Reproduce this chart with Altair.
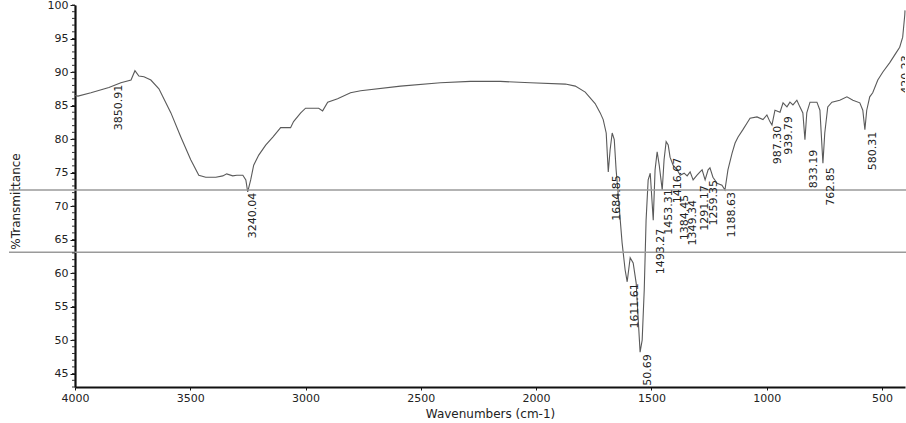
import altair as alt
import pandas as pd

# Spectrum (wavenumber cm-1, %T)
wavenumber = [4000, 3987, 3931, 3853, 3801, 3757, 3740, 3723, 3701, 3671, 3636, 3584, 3541, 3498,
              3463, 3433, 3389, 3359, 3342, 3316, 3298, 3272, 3259, 3251, 3238, 3225, 3203, 3173,
              3142, 3108, 3065, 3052, 3021, 3000, 2943, 2926, 2904, 2861, 2805, 2761, 2588, 2415,
              2285, 2155, 2025, 1873, 1830, 1787, 1744, 1722, 1709, 1696, 1687, 1679, 1670, 1661,
              1653, 1648, 1627, 1614, 1605, 1592, 1579, 1566, 1557, 1549, 1540, 1531, 1523, 1514,
              1505, 1492, 1484, 1475, 1466, 1453, 1445, 1436, 1427, 1419, 1406, 1388, 1375, 1358,
              1345, 1332, 1319, 1302, 1289, 1280, 1267, 1254, 1246, 1233, 1215, 1194, 1181, 1168,
              1150, 1137, 1124, 1103, 1085, 1072, 1042, 1016, 999, 986, 977, 964, 942, 929, 912,
              899, 886, 869, 856, 843, 834, 826, 812, 782, 769, 756, 748, 735, 717, 683, 652, 626,
              596, 583, 574, 566, 553, 540, 518, 496, 466, 436, 423, 410, 401, 400]
transmittance = [86.5, 86.4, 86.9, 87.7, 88.4, 88.8, 90.2, 89.4, 89.3, 88.8, 87.5, 83.9, 80.3, 76.9,
                 74.6, 74.3, 74.3, 74.5, 74.8, 74.5, 74.6, 74.6, 73.9, 72.1, 73.9, 76.1, 77.6, 79.1,
                 80.3, 81.7, 81.7, 82.6, 83.9, 84.6, 84.6, 84.2, 85.5, 86.0, 86.9, 87.2, 87.9, 88.4,
                 88.6, 88.6, 88.4, 88.2, 87.9, 87.0, 85.3, 83.9, 82.9, 80.9, 75.1, 78.4, 80.9, 79.9,
                 75.4, 73.4, 64.5, 60.5, 58.7, 62.3, 61.5, 58.5, 53.0, 48.2, 50.0, 57.5, 67.9, 73.9,
                 74.9, 67.9, 75.4, 78.1, 76.1, 72.4, 76.9, 79.6, 79.1, 77.3, 76.1, 75.4, 74.6, 74.9,
                 74.5, 75.1, 73.9, 74.6, 75.1, 75.4, 73.9, 75.4, 75.7, 74.3, 73.4, 73.1, 72.4, 75.4,
                 77.9, 79.4, 80.3, 81.4, 82.4, 83.1, 83.3, 82.9, 83.6, 82.6, 82.1, 84.3, 84.0, 85.4, 84.8,
                 85.5, 85.1, 85.8, 84.8, 83.9, 79.9, 83.9, 85.5, 85.5, 84.3, 76.4, 80.9, 84.8, 85.5, 85.8, 86.3, 85.8,
                 85.4, 84.3, 81.4, 84.3, 86.3, 86.9, 88.8, 90.0, 91.4, 93.0, 93.7, 95.2, 98.5, 99.2]

# Peak annotations: text, anchor wavenumber, top of label (%T)
peak_text = ["3850.91", "3240.04", "1684.85", "1611.61", "1550.69", "1493.27", "1453.31",
             "1416.67", "1384.45", "1349.34", "1291.17", "1259.35", "1188.63", "987.30",
             "939.79", "833.19", "762.85", "580.31", "420.23"]
peak_wn = [3809, 3229, 1648, 1570, 1514, 1458, 1423, 1384, 1354, 1319, 1267, 1228, 1150, 951,
           903, 795, 722, 540, 396]
peak_top = [88.1, 72.0, 74.6, 58.5, 47.9, 66.6, 72.5, 77.2, 71.7, 70.9, 73.1, 73.9, 72.1, 82.0,
            83.4, 78.4, 75.8, 81.1, 92.5]

# Scan reference lines (%T)
ref_lines = [72.4, 63.1]

x_ticks = [4000, 3500, 3000, 2500, 2000, 1500, 1000, 500]
y_ticks = [45, 50, 55, 60, 65, 70, 75, 80, 85, 90, 95, 100]
minor_y = list(range(43, 101))

FONT = "DejaVu Sans"
W, H = 830, 382

xscale = alt.Scale(domain=[4000, 400], nice=False, zero=False)
yscale = alt.Scale(domain=[43, 100], nice=False, zero=False)

spectrum = pd.DataFrame({"wn": wavenumber, "T": transmittance})
peaks = pd.DataFrame({"label": peak_text, "wn": peak_wn, "top": peak_top})
refs = pd.DataFrame({"v": ref_lines})
minors = pd.DataFrame({"v": minor_y})

xaxis = alt.Axis(values=x_ticks, format="d", title="Wavenumbers (cm-1)", grid=False,
                 domainColor="#111", domainWidth=2.2, tickColor="#111", tickSize=3,
                 labelPadding=2, labelFont=FONT, labelFontSize=11, labelColor="#222",
                 labelFlush=False, titleFont=FONT, titleFontSize=12, titleFontWeight="normal",
                 titleColor="#222", titleY=26, titleBaseline="middle")
yaxis = alt.Axis(values=y_ticks, format="d", title="%Transmittance", grid=False,
                 domainColor="#111", domainWidth=2.2, tickColor="#111", tickSize=5,
                 labelPadding=2, labelFont=FONT, labelFontSize=11, labelColor="#222",
                 labelFlush=False,
                 titleFont=FONT, titleFontSize=12, titleFontWeight="normal", titleColor="#222",
                 titleX=-60, titleY=196, titleAngle=270, titleAlign="center",
                 titleBaseline="middle")

line_layer = alt.Chart(spectrum).mark_line(color="#5a5a5a", strokeWidth=1.1).encode(
    x=alt.X("wn:Q", scale=xscale, axis=xaxis),
    y=alt.Y("T:Q", scale=yscale, axis=yaxis))

ref_layer = alt.Chart(refs).mark_rule(color="#9a9a9a", strokeWidth=1.4).encode(
    y=alt.Y("v:Q", scale=yscale, axis=yaxis),
    x=alt.value(-66), x2=alt.value(W + 2))

minor_layer = alt.Chart(minors).mark_rule(color="#333", strokeWidth=1).encode(
    y=alt.Y("v:Q", scale=yscale, axis=yaxis),
    x=alt.value(-3), x2=alt.value(0))

label_layer = alt.Chart(peaks).mark_text(angle=270, align="right", baseline="middle",
                                         font=FONT, fontSize=11, color="#222", clip=True).encode(
    x=alt.X("wn:Q", scale=xscale, axis=xaxis),
    y=alt.Y("top:Q", scale=yscale, axis=yaxis),
    text="label:N")

chart = alt.layer(line_layer, ref_layer, minor_layer, label_layer).properties(
    width=W, height=H,
    padding={"left": 75, "top": 5, "right": 1, "bottom": 36},
    autosize="none",
    background="white",
).configure_view(stroke=None)

chart.save("out.html", embed_options={"renderer": "svg", "actions": False})
